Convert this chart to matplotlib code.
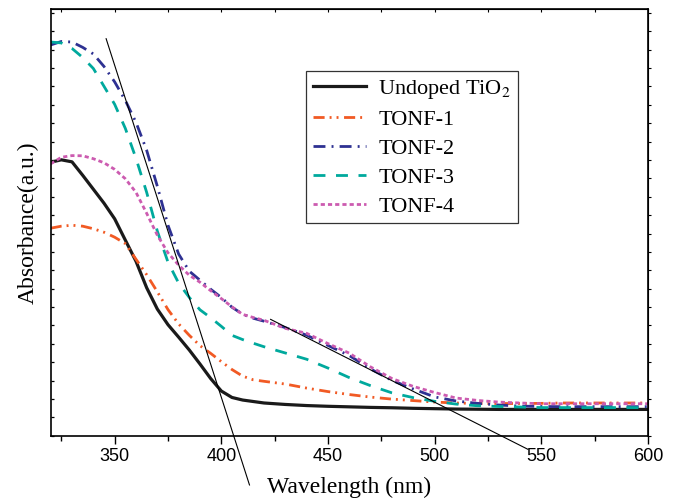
import matplotlib
matplotlib.use("Agg")
import matplotlib.pyplot as plt

# wavelength grid (nm) and absorbance readings (a.u.)
wavelength = [320, 325, 330, 335, 340, 345, 350, 355, 360, 365, 370, 375, 380, 385, 390,
              395, 400, 405, 410, 415, 420, 430, 440, 450, 460, 470, 480, 490, 500, 510,
              520, 530, 540, 550, 560, 570, 580, 590, 600]

undoped = [1.488, 1.501, 1.490, 1.417, 1.341, 1.265, 1.180, 1.064, 0.949, 0.805, 0.689,
           0.604, 0.536, 0.466, 0.390, 0.311, 0.243, 0.208, 0.194, 0.186, 0.178,
           0.170, 0.164, 0.160, 0.157, 0.154, 0.152, 0.149, 0.147, 0.145, 0.144,
           0.143, 0.143, 0.143, 0.143, 0.143, 0.143, 0.143, 0.143]
tonf1 = [1.129, 1.140, 1.145, 1.140, 1.126, 1.107, 1.080, 1.045, 0.960, 0.876, 0.783,
         0.686, 0.608, 0.546, 0.490, 0.448, 0.403, 0.360, 0.324, 0.304, 0.296,
         0.281, 0.259, 0.240, 0.224, 0.210, 0.199, 0.191, 0.183, 0.178, 0.175,
         0.175, 0.175, 0.176, 0.178, 0.178, 0.178, 0.178, 0.178]
tonf2 = [2.126, 2.145, 2.142, 2.113, 2.077, 2.009, 1.925, 1.824, 1.705, 1.553, 1.357,
         1.145, 0.988, 0.895, 0.846, 0.797, 0.752, 0.699, 0.661, 0.639, 0.623,
         0.588, 0.547, 0.491, 0.436, 0.363, 0.301, 0.254, 0.211, 0.189, 0.176,
         0.167, 0.161, 0.159, 0.158, 0.158, 0.158, 0.158, 0.158]
tonf3 = [2.142, 2.137, 2.107, 2.058, 1.998, 1.901, 1.803, 1.672, 1.509, 1.324, 1.113,
         0.944, 0.830, 0.752, 0.685, 0.642, 0.595, 0.546, 0.523, 0.503, 0.484,
         0.450, 0.416, 0.368, 0.316, 0.272, 0.233, 0.207, 0.187, 0.172, 0.163,
         0.159, 0.156, 0.153, 0.153, 0.153, 0.153, 0.153, 0.153]
tonf4 = [1.479, 1.515, 1.524, 1.523, 1.507, 1.485, 1.449, 1.398, 1.324, 1.210, 1.091,
         0.995, 0.928, 0.873, 0.835, 0.789, 0.746, 0.701, 0.660, 0.643, 0.628,
         0.584, 0.557, 0.501, 0.449, 0.374, 0.311, 0.268, 0.235, 0.205, 0.192,
         0.183, 0.178, 0.174, 0.174, 0.174, 0.174, 0.174, 0.174]

# band-edge tangent lines (end points)
tangent1_x = [346.0, 413.2]
tangent1_y = [2.160, -0.268]
tangent2_x = [423.1, 543.7]
tangent2_y = [0.633, -0.074]

labels = ['Undoped TiO$_2$', 'TONF-1', 'TONF-2', 'TONF-3', 'TONF-4']
series = [undoped, tonf1, tonf2, tonf3, tonf4]
colors = ['#1a1a1a', '#F15A24', '#2E3192', '#00A99D', '#CC5BB0']
styles = ['-', (0, (4.0, 1.8, 0.7, 1.8, 0.7, 2.0)), (0, (4.3, 2.2, 0.7, 2.2)),
          (0, (4.3, 3.8)), (0, (1.5, 1.1))]

plt.rcParams['mathtext.fontset'] = 'stix'

fig = plt.figure(figsize=(6.81, 5), dpi=100)
ax = fig.add_axes([0.0744, 0.1286, 0.8771, 0.8528])

for y, lab, c, ls in zip(series, labels, colors, styles):
    lw = 2.3 if ls == '-' else 2.0
    ax.plot(wavelength, y, color=c, linestyle=ls, linewidth=lw, label=lab)

ax.plot(tangent1_x, tangent1_y, color='black', linewidth=0.8, clip_on=False)
ax.plot(tangent2_x, tangent2_y, color='black', linewidth=0.8, clip_on=False)

ax.set_xlim(320, 600)
ax.set_ylim(0, 2.32)

ax.set_xticks([350, 400, 450, 500, 550, 600])
ax.set_xticks([325, 375, 425, 475, 525, 575], minor=True)
ax.set_yticks([i * 0.1 for i in range(24)])
ax.set_yticklabels([])

for s in ax.spines.values():
    s.set_linewidth(1.2)

ax.tick_params(axis='x', which='major', direction='out', length=5.5, width=1.0, pad=3)
ax.tick_params(axis='x', which='minor', direction='out', length=3.5, width=1.0)
ax.tick_params(axis='y', direction='in', length=2.5, width=0.9)
for t in ax.get_xticklabels():
    t.set_fontfamily('Liberation Sans')
    t.set_fontsize(13)

top = ax.secondary_xaxis('top')
top.set_xticks([325, 350, 375, 400, 425, 450, 475, 500, 525, 550, 575])
top.tick_params(direction='in', length=2.0, width=0.8, labeltop=False)
right = ax.secondary_yaxis('right')
right.set_yticks([i * 0.1 for i in range(24)])
right.tick_params(direction='out', length=2.0, width=0.8, labelright=False)

ax.set_xlabel('Wavelength (nm)', fontfamily='Liberation Serif', fontsize=17, labelpad=9)
ax.set_ylabel('Absorbance(a.u.)', fontfamily='Liberation Serif', fontsize=17, labelpad=5)

leg = ax.legend(loc='upper left', bbox_to_anchor=(306 / 681, 1 - 71 / 500),
                bbox_transform=fig.transFigure, borderaxespad=0,
                prop={'family': 'Liberation Serif', 'size': 16},
                fancybox=False, frameon=True, handlelength=2.4,
                labelspacing=0.38, borderpad=0.3, handletextpad=0.55)
leg.get_frame().set_edgecolor('black')
leg.get_frame().set_linewidth(0.9)

fig.savefig('out.png', dpi=100)
